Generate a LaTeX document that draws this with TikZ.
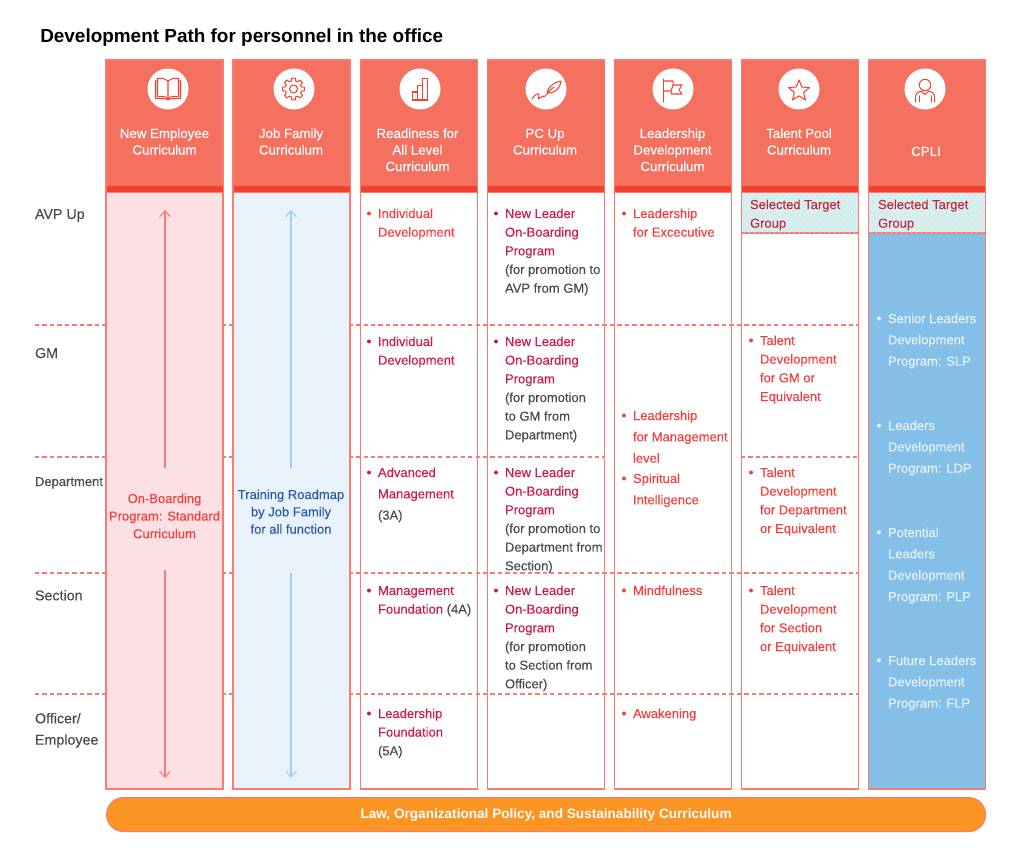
\documentclass[tikz,border=0pt]{standalone}
\usepackage{fontspec}
\setmainfont{Liberation Sans}
\newfontfamily\medf[FakeBold=0.35]{Liberation Sans}
\newfontfamily\bodyf[FakeBold=0.18]{Liberation Sans}
\usetikzlibrary{arrows.meta}
\definecolor{hdr}{HTML}{F4705F}
\definecolor{band}{HTML}{F4402F}
\definecolor{bord}{HTML}{FA7B72}
\definecolor{pinkf}{HTML}{FCE0E3}
\definecolor{bluef}{HTML}{E9F2FA}
\definecolor{bluec}{HTML}{84BFE8}
\definecolor{orng}{HTML}{FA9422}
\definecolor{redt}{HTML}{F2403F}
\definecolor{crim}{HTML}{CC1B4E}
\definecolor{dk}{HTML}{4A4A4A}
\definecolor{navy}{HTML}{2B5BA8}
\definecolor{teal}{HTML}{D3ECEC}
\definecolor{selt}{HTML}{C4283F}
\definecolor{whb}{HTML}{E6F2FB}
\definecolor{dashc}{HTML}{F47F75}
\definecolor{arr}{HTML}{F67C78}
\definecolor{arb}{HTML}{A3CFEE}
\tikzset{
  x=0.75pt,y=-0.75pt,
  colbox/.style={rectangle,inner sep=0,outer sep=0,minimum width=87.75pt,draw=bord,line width=.85pt},
  hdrbox/.style={colbox,fill=hdr,anchor=north west,minimum height=99pt},
  bodybox/.style={colbox,anchor=north west,minimum height=447.75pt},
  bandbox/.style={rectangle,inner sep=0,outer sep=0,minimum width=87pt,minimum height=4.6pt,fill=band,anchor=south west},
  iconc/.style={circle,fill=white,inner sep=0,minimum size=30.75pt,outer sep=0},
  icon/.style={draw=band,line width=0.76pt,line join=round,line cap=round,fill=none},
  txt/.style={anchor=north west,inner sep=0,outer sep=0,align=left},
  ctxt/.style={anchor=north,inner sep=0,outer sep=0,align=center},
  dashline/.style={draw=dashc,line width=0.8pt,dash pattern=on 3.2pt off 2.4pt},
  arrowline/.style={draw=#1,color=#1,line width=0.8pt,-{Straight Barb[length=4.5pt,width=8pt,line width=0.8pt]}},
}
\newcommand{\tl}[6]{\node[txt,text=#5,font={\bodyf\fontsize{9.75pt}{#4pt}\selectfont}] (#1) at (#2,#3-10) {\rule{0pt}{7.5pt}#6};}
\newcommand{\bl}[6]{\fill[#5] (#2-9,#3-4.5) circle (2);\tl{#1}{#2}{#3}{#4}{#5}{#6}}
\newcommand{\hd}[4]{\node[ctxt,text=white,font={\medf\fontsize{9.95pt}{12.4pt}\selectfont}] (#1) at (#2,#3-10) {\rule{0pt}{7.5pt}#4};}
\newcommand{\lev}[4]{\node[txt,text=dk,font={\bodyf\fontsize{#4pt}{16pt}\selectfont}] (#1) at (35,#2-10) {\rule{0pt}{7.5pt}#3};}
\begin{document}
\begin{tikzpicture}
\useasboundingbox (0,0) rectangle (1024,852);
\node[anchor=north west,inner sep=0,font={\bfseries\fontsize{14.2pt}{17pt}\selectfont},text=black] (title) at (40,28) {\rule{0pt}{10.5pt}Development Path for personnel in the office};

% white bodies
\foreach \n/\x in {c3/360.5,c4/487.5,c5/614.5,c6/741.5}{
  \node[bodybox,fill=white] (body\n) at (\x,192) {};
}
% level lines
\coordinate (l1) at (35,325); \coordinate (r1) at (858,325);
\coordinate (l2) at (35,457); \coordinate (r2) at (604,457);
\coordinate (l2b) at (741,457); \coordinate (r2b) at (858,457);
\coordinate (l3) at (35,573); \coordinate (r3) at (858,573);
\coordinate (l4) at (35,694); \coordinate (r4) at (858,694);
\draw[dashline] (l1) -- (r1);
\draw[dashline] (l2) -- (r2);
\draw[dashline] (l2b) -- (r2b);
\draw[dashline] (l3) -- (r3);
\draw[dashline] (l4) -- (r4);

% filled bodies
\node[bodybox,fill=pinkf] (bodyc1) at (106,192) {};
\node[bodybox,fill=bluef] (bodyc2) at (233,192) {};
\node[bodybox,fill=bluec] (bodyc7) at (868.5,192) {};

% selected target
\node[colbox,fill=teal,anchor=north west,minimum height=30.75pt] (sel6) at (741.5,192) {};
\node[colbox,fill=teal,anchor=north west,minimum height=30.75pt] (sel7) at (868.5,192) {};
\begin{scope}
\clip (742,193) rectangle (857.5,232.5);
\foreach \r in {0,...,13}{
  \pgfmathsetmacro{\yy}{194+\r*3}
  \pgfmathsetmacro{\off}{mod(\r,2)*2.5}
  \foreach \c in {0,...,23}{
    \fill[white,opacity=.55] (742+\c*5+\off,\yy) circle (.8);
  }
}
\end{scope}
\begin{scope}
\clip (869,193) rectangle (985,232.5);
\foreach \r in {0,...,13}{
  \pgfmathsetmacro{\yy}{194+\r*3}
  \pgfmathsetmacro{\off}{mod(\r,2)*2.5}
  \foreach \c in {0,...,23}{
    \fill[white,opacity=.55] (869+\c*5+\off,\yy) circle (.8);
  }
}
\end{scope}

% headers
\foreach \n/\x in {c1/106,c2/233,c3/360.5,c4/487.5,c5/614.5,c6/741.5,c7/868.5}{
  \node[hdrbox] (head\n) at (\x,60) {};
  \node[bandbox] (band\n) at (\x+.5,192) {};
}
\node[iconc] (ic1) at (168,89) {};
\node[iconc] (ic2) at (294,89) {};
\node[iconc] (ic3) at (420,89) {};
\node[iconc] (ic4) at (546,89) {};
\node[iconc] (ic5) at (673,89) {};
\node[iconc] (ic6) at (799,89) {};
\node[iconc] (ic7) at (925,89) {};

% book
\draw[icon] (168,81) .. controls (164,78) and (160,78) .. (157.5,78.5) -- (157.5,96.5) .. controls (161,96) and (165,96) .. (168,98.5) .. controls (171,96) and (175,96) .. (178.5,96.5) -- (178.5,78.5) .. controls (176,78) and (172,78) .. (168,81) -- (168,98.5);
\draw[icon] (157.5,81) -- (155.5,81) -- (155.5,98.5) -- (165.5,98.5) -- (168,100) -- (170.5,98.5) -- (180.5,98.5) -- (180.5,81) -- (178.5,81);
% gear
\foreach \a in {0,45,...,315}{
  \draw[icon,shift={(293.5,89)}] (\a-16:8.2) -- (\a-9:11) -- (\a+9:11) -- (\a+16:8.2) -- (\a+29:8.2);
}
\draw[icon] (293.5,89) circle (4);
% bars
\draw[icon] (412.7,92) rectangle (417.7,100);
\draw[icon] (417.7,85.7) rectangle (422.7,100);
\draw[icon] (422.7,78.5) rectangle (427.7,100);
% feather
\draw[icon] (547,93) .. controls (548,87) and (554,82) .. (561,81) .. controls (561,88) and (554,94) .. (547,93) -- (554,87);
\draw[icon] (532,99) .. controls (534,95) and (539,92) .. (539,95) .. controls (539,98) and (537,100) .. (540,98) .. controls (543,95) and (544,96) .. (544,97) .. controls (545,96) and (546,95) .. (548,93);
% flag
\draw[icon] (663,79) -- (663,102);
\draw[icon] (663,81) -- (673,81) -- (673,85) -- (682,85) -- (679,90) -- (682,94) -- (671,94) -- (671,91) -- (663,91);
\draw[icon] (671,91) -- (673,85);
% star
\draw[icon,shift={(799,91)}] (270:11) -- (306:4.9) -- (342:11) -- (18:4.9) -- (54:11) -- (90:4.9) -- (126:11) -- (162:4.9) -- (198:11) -- (234:4.9) -- cycle;
% person
\draw[icon] (925,85) circle (5.7);
\draw[icon] (915.5,102) -- (915.5,96) .. controls (915.5,93) and (918,92) .. (921,91) -- (925,94.5) -- (929,91) .. controls (932,92) and (934.5,93) .. (934.5,96) -- (934.5,102);
\draw[icon] (919,96) -- (919,102);
\draw[icon] (931,96) -- (931,102);

% header labels
\hd{h1}{164.5}{138}{New Employee\\Curriculum}
\hd{h2}{291}{138}{Job Family\\Curriculum}
\hd{h3}{417.5}{138}{Readiness for\\All Level\\Curriculum}
\hd{h4}{545}{138}{PC Up\\Curriculum}
\hd{h5}{672.5}{138}{Leadership\\Development\\Curriculum}
\hd{h6}{799}{138}{Talent Pool\\Curriculum}
\hd{h7}{926}{156}{CPLI}

% levels
\lev{lv1}{219}{AVP Up}{10.7}
\lev{lv2}{358}{GM}{10.7}
\lev{lv3}{486}{Department}{9.75}
\lev{lv4}{600}{Section}{10.7}
\lev{lv5}{723}{Officer/\\Employee}{10.7}

% col 1/2
\node[ctxt,text=redt,font={\bodyf\fontsize{9.75pt}{13.2pt}\selectfont}] (onb) at (164.5,493) {\rule{0pt}{7.5pt}On-Boarding\\Program: Standard\\Curriculum};
\node[ctxt,text=navy,font={\bodyf\fontsize{9.75pt}{13pt}\selectfont}] (trn) at (291,489) {\rule{0pt}{7.5pt}Training Roadmap\\by Job Family\\for all function};
\coordinate (a1s) at (165,468); \coordinate (a1e) at (165,210);
\coordinate (a2s) at (165,570); \coordinate (a2e) at (165,778);
\coordinate (b1s) at (291,468); \coordinate (b1e) at (291,210);
\coordinate (b2s) at (291,573); \coordinate (b2e) at (291,778);
\draw[arrowline=arr] (a1s) -- (a1e);
\draw[arrowline=arr] (a2s) -- (a2e);
\draw[arrowline=arb] (b1s) -- (b1e);
\draw[arrowline=arb] (b2s) -- (b2e);

% col 3
\bl{t31}{378}{218}{14}{redt}{Individual\\Development}
\bl{t32}{378}{346}{14}{crim}{Individual\\Development}
\bl{t33}{378}{477}{16}{crim}{Advanced\\Management\\\color{dk}(3A)}
\bl{t34}{378}{595}{14}{crim}{Management\\Foundation \color{dk}(4A)}
\bl{t35}{378}{718}{14}{crim}{Leadership\\Foundation\\\color{dk}(5A)}
% col 4
\bl{t41}{505}{218}{14}{crim}{New Leader\\On-Boarding\\Program\\\color{dk}(for promotion to\\\color{dk}AVP from GM)}
\bl{t42}{505}{346}{14}{crim}{New Leader\\On-Boarding\\Program\\\color{dk}(for promotion\\\color{dk}to GM from\\\color{dk}Department)}
\bl{t43}{505}{477}{14}{crim}{New Leader\\On-Boarding\\Program\\\color{dk}(for promotion to\\\color{dk}Department from\\\color{dk}Section)}
\bl{t44}{505}{595}{14}{crim}{New Leader\\On-Boarding\\Program\\\color{dk}(for promotion\\\color{dk}to Section from\\\color{dk}Officer)}
% col 5
\bl{t51}{633}{218}{14}{redt}{Leadership\\for Excecutive}
\bl{t52}{633}{420}{16}{redt}{Leadership\\for Management\\level}
\bl{t53}{633}{483}{16}{redt}{Spiritual\\Intelligence}
\bl{t54}{633}{595}{14}{redt}{Mindfulness}
\bl{t55}{633}{718}{14}{redt}{Awakening}
% col 6
\tl{t60}{750}{209}{14}{selt}{Selected Target\\Group}
\bl{t61}{760}{345}{14}{redt}{Talent\\Development\\for GM or\\Equivalent}
\bl{t62}{760}{477}{14}{redt}{Talent\\Development\\for Department\\or Equivalent}
\bl{t63}{760}{595}{14}{redt}{Talent\\Development\\for Section\\or Equivalent}
% col 7
\tl{t70}{878}{209}{14}{selt}{Selected Target\\Group}
\bl{t71}{888}{323}{16}{whb}{Senior Leaders\\Development\\Program: SLP}
\bl{t72}{888}{430}{16}{whb}{Leaders\\Development\\Program: LDP}
\bl{t73}{888}{537}{16}{whb}{Potential\\Leaders\\Development\\Program: PLP}
\bl{t74}{888}{665}{16}{whb}{Future Leaders\\Development\\Program: FLP}

% footer
\node[rectangle,rounded corners=12.75pt,fill=orng,draw=bord,line width=.85pt,minimum width=659.25pt,minimum height=25.5pt,inner sep=0,anchor=north west,text=white,font={\bfseries\fontsize{10.2pt}{12pt}\selectfont}] (foot) at (106,797) {\raisebox{-.6pt}{Law, Organizational Policy, and Sustainability Curriculum}};
\end{tikzpicture}
\end{document}
